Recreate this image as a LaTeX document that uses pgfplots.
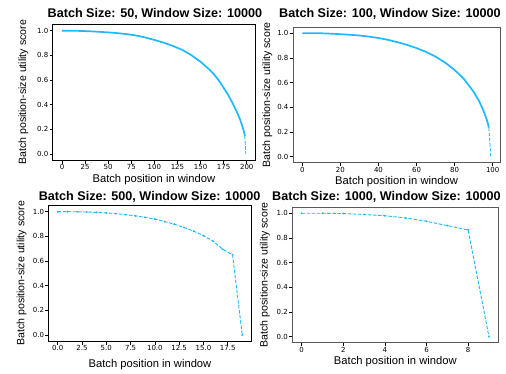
\documentclass[border=0pt]{standalone}
\usepackage{fontspec}
\setmainfont{Liberation Sans}
\newfontfamily\tickfont{DejaVu Sans}
\usepackage{pgfplots}
\pgfplotsset{compat=1.18}
\definecolor{lineblue}{RGB}{30,185,255}
\pgfplotsset{
 myax/.style={
  scale only axis, anchor=south west,
  ymin=-0.05, ymax=1.05,
  ytick={0,0.2,0.4,0.6,0.8,1.0},
  tick align=outside, xtick pos=left, ytick pos=left,
  major tick length=3.3pt,
  tick style={black, line width=0.6pt},
  ticklabel style={font=\tickfont\fontsize{7}{8}\selectfont, inner sep=1pt},
  /pgf/number format/assume math mode=true,
  yticklabel style={/pgf/number format/.cd, fixed, fixed zerofill, precision=1},
  title style={font=\bfseries\fontsize{12.6}{14}\selectfont, anchor=center, inner sep=0pt, yshift=-6pt},
  xlabel style={font=\fontsize{11.2}{13}\selectfont, anchor=center, inner sep=0pt},
  ylabel style={font=\fontsize{10.6}{12}\selectfont, anchor=center, inner sep=0pt},
  xlabel={Batch position in window},
  ylabel={Batch position-size utility score},
 },
 thickline/.style={lineblue, line width=1.7pt},
 dashline/.style={lineblue, line width=0.9pt, dash pattern=on 3.5pt off 1.6pt},
}
\begin{document}
\begin{tikzpicture}
\useasboundingbox (0,0) rectangle (506pt,373pt);
% Top-left
\begin{axis}[myax, at={(52.8pt,212.8pt)}, width=202.2pt, height=135.7pt,
  xmin=-9.95, xmax=208.95, xtick={0,25,50,75,100,125,150,175,200},
  axis line style={black, line width=0.8pt},
  title={Batch Size: 50, Window Size: 10000},
  title style={at={(axis description cs:0.505,1.077)}},
  xlabel style={at={(axis description cs:0.5,-0.146)}},
  ylabel style={at={(axis description cs:-0.146,0.5)}}]
\addplot[thickline] coordinates {(0,1.000)(10,0.999)(20,0.998)(30,0.995)(40,0.991)(50,0.986)(60,0.980)(70,0.972)(80,0.961)(90,0.945)(100,0.925)(110,0.903)(120,0.876)(130,0.845)(140,0.802)(150,0.748)(160,0.682)(165,0.642)(170,0.594)(175,0.537)(180,0.478)(185,0.408)(190,0.330)(193,0.275)(195,0.232)(197,0.182)(198,0.146)};
\addplot[dashline] coordinates {(198,0.146)(199,0.000)};
\end{axis}
% Top-right
\begin{axis}[myax, at={(292.9pt,210.2pt)}, width=207.3pt, height=135.8pt,
  xmin=-4.95, xmax=103.95, xtick={0,20,40,60,80,100},
  axis line style={black!65, line width=0.8pt},
  title={Batch Size: 100, Window Size: 10000},
  title style={at={(axis description cs:0.468,1.096)}},
  xlabel style={at={(axis description cs:0.5,-0.139)}},
  ylabel style={at={(axis description cs:-0.1235,0.5)}}]
\addplot[thickline] coordinates {(0,1.000)(5,1.000)(10,0.999)(15,0.996)(20,0.992)(25,0.987)(30,0.981)(35,0.972)(40,0.961)(45,0.946)(50,0.927)(55,0.905)(60,0.879)(65,0.848)(70,0.810)(75,0.762)(80,0.702)(85,0.627)(90,0.525)(93,0.445)(95,0.378)(97,0.295)(98,0.235)};
\addplot[dashline] coordinates {(98,0.235)(99,0.000)};
\end{axis}
% Bottom-left
\begin{axis}[myax, at={(48.5pt,31.8pt)}, width=203pt, height=135.7pt,
  xmin=-0.95, xmax=19.95, xtick={0,2.5,5,7.5,10,12.5,15,17.5},
  xticklabel style={/pgf/number format/.cd, fixed, fixed zerofill, precision=1},
  axis line style={black, line width=0.8pt},
  title={Batch Size: 500, Window Size: 10000},
  title style={at={(axis description cs:0.498,1.065)}},
  xlabel style={at={(axis description cs:0.5,-0.175)}},
  ylabel style={at={(axis description cs:-0.132,0.5)}}]
\addplot[dashline, mark=*, mark size=0.45pt, mark options={solid}] coordinates {(0,1.000)(1,1.000)(2,0.999)(3,0.997)(4,0.994)(5,0.990)(6,0.984)(7,0.976)(8,0.966)(9,0.954)(10,0.940)(11,0.920)(12,0.898)(13,0.872)(14,0.842)(15,0.806)(16,0.760)(17,0.695)(18,0.650)(19,0.000)};
\end{axis}
% Bottom-right
\begin{axis}[myax, at={(292.3pt,30.2pt)}, width=206pt, height=135.7pt,
  xmin=-0.45, xmax=9.45, xtick={0,2,4,6,8},
  axis line style={black!65, line width=0.8pt},
  title={Batch Size: 1000, Window Size: 10000},
  title style={at={(axis description cs:0.457,1.077)}},
  xlabel style={at={(axis description cs:0.5,-0.139)}},
  ylabel style={at={(axis description cs:-0.1325,0.5)}}]
\addplot[dashline, mark=*, mark size=0.45pt, mark options={solid}] coordinates {(0,1.000)(1,1.000)(2,0.998)(3,0.990)(4,0.980)(5,0.962)(6,0.935)(7,0.900)(8,0.865)(9,0.000)};
\end{axis}
\end{tikzpicture}
\end{document}
